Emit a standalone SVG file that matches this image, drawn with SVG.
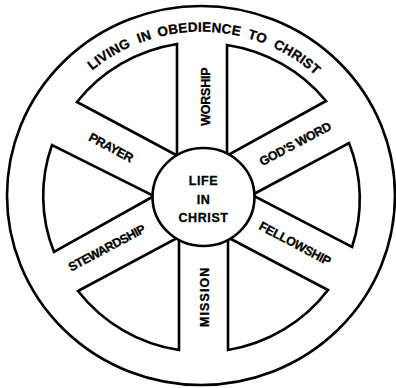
<svg xmlns="http://www.w3.org/2000/svg" width="396" height="388" viewBox="0 0 396 388">
<style>
.ln{fill:none;stroke:#000;stroke-width:2.6;stroke-linejoin:miter}
.sec{fill:#fff;stroke:#000;stroke-width:2.6;stroke-linejoin:miter}
.lbl{font-family:"Liberation Sans",Arial,sans-serif;font-weight:bold;font-size:12.5px;fill:#000;stroke:#000;stroke-width:0.3;text-anchor:middle;letter-spacing:0.6px}
.arc{font-family:"Liberation Sans",Arial,sans-serif;font-weight:bold;font-size:13.5px;fill:#000;stroke:#000;stroke-width:0.3;text-anchor:middle;letter-spacing:0.2px}
</style>
<defs>
<path id="arcPath" d="M71.8,90.5 A168.7,164.8 0 0 1 330.2,90.5"/>
</defs>
<rect width="396" height="388" fill="#fff"/>
<g id="rim">
<ellipse class="ln" cx="201" cy="195.5" rx="194" ry="189.5"/>
<text class="arc"><textPath href="#arcPath" startOffset="51.5">LIVING</textPath></text>
<text class="arc"><textPath href="#arcPath" startOffset="90">IN</textPath></text>
<text class="arc"><textPath href="#arcPath" startOffset="144.6">OBEDIENCE</textPath></text>
<text class="arc"><textPath href="#arcPath" startOffset="202.5">TO</textPath></text>
<text class="arc"><textPath href="#arcPath" startOffset="245.9">CHRIST</textPath></text>
</g>
<g id="connectors">
<path class="sec" d="M178,156 L77,102 A158,154.4 0 0 1 177,44 L177,156 Z"/>
<path class="sec" d="M227,156 L227,45 A158,154.4 0 0 1 326,101 L228,155 Z"/>
<path class="sec" d="M252,195 L349,143 A158,154.4 0 0 1 352,247 Z"/>
<path class="sec" d="M229,238 L328,290 A158,154.4 0 0 1 228,350 L228,238 Z"/>
<path class="sec" d="M179,238 L179,350 A158,154.4 0 0 1 78,291 L177,238 Z"/>
<path class="sec" d="M154,196 L54,252 A158,154.4 0 0 1 52,145 Z"/>
</g>
<g id="hub">
<ellipse class="sec" cx="203.5" cy="197" rx="51" ry="49"/>
<text class="lbl" x="203.5" y="185">LIFE</text>
<text class="lbl" x="203.5" y="204">IN</text>
<text class="lbl" x="203.5" y="222">CHRIST</text>
</g>
<g id="worship"><text class="lbl" transform="translate(205,96.3) rotate(-90)" y="4.5" textLength="59" lengthAdjust="spacing">WORSHIP</text></g>
<g id="mission"><text class="lbl" transform="translate(204,297) rotate(-90)" y="4.5" textLength="60" lengthAdjust="spacing">MISSION</text></g>
<g id="prayer"><text class="lbl" transform="translate(111.5,147.5) rotate(28)" y="4.5" textLength="49" lengthAdjust="spacing">PRAYER</text></g>
<g id="godsword"><text class="lbl" transform="translate(295.5,143.5) rotate(-28)" y="4.5" textLength="80" lengthAdjust="spacing">GOD'S WORD</text></g>
<g id="fellowship"><text class="lbl" transform="translate(295.5,243.5) rotate(28)" y="4.5" textLength="80" lengthAdjust="spacing">FELLOWSHIP</text></g>
<g id="stewardship"><text class="lbl" transform="translate(107,247.5) rotate(-28)" y="4.5" textLength="86" lengthAdjust="spacing">STEWARDSHIP</text></g>
</svg>
